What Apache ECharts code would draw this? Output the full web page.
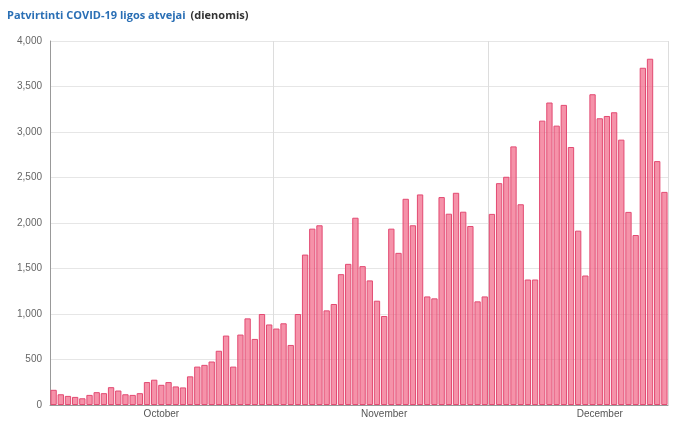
<!DOCTYPE html>
<html>
<head>
<meta charset="utf-8" />
<script src="https://cdn.jsdelivr.net/npm/echarts@6/dist/echarts.min.js"></script>
<style>body{margin:0;background:#fff}#main{width:689px;height:425px}</style>
</head>
<body>
<div id="main"></div>
<script>
var oct = [167,118,100,89,74,111,141,130,196,159,118,111,130,252,278,222,252,204,193,315,422,441,478,596,763,422,774,952,726,1000,885];
var nov = [840,898,660,1000,1653,1938,1975,1040,1110,1438,1551,2058,1526,1369,1146,978,1938,1672,2266,1975,2314,1193,1172,2285,2102,2332,2124,1967,1139,1193];
var dec = [2100,2438,2508,2842,2206,1379,1379,3125,3324,3070,3298,2835,1916,1423,3415,3151,3176,3217,2916,2122,1868,3706,3805,2680,2342];
var monthLabels = {15: 'October', 46: 'November', 76: 'December'};
var values = oct.concat(nov, dec);
var days = values.map(function (v, i) { return i; });

var chart = echarts.init(document.getElementById('main'));
chart.setOption({
    animation: false,
    title: {
        text: '{a|Patvirtinti COVID-19 ligos atvejai} {b|(dienomis)}',
        left: 2, top: 2,
        textStyle: { rich: {
            a: { color: '#2a6fb5', fontSize: 11, fontFamily: 'Open Sans' },
            b: { color: '#333', fontSize: 11, fontFamily: 'Open Sans' }
        } }
    },
    grid: { left: 50, right: 21, top: 41, bottom: 20 },
    xAxis: {
        type: 'category',
        data: days,
        axisLine: { lineStyle: { color: '#999' } },
        axisTick: { interval: function (i) { return i === 0 || i === 31 || i === 61; }, length: 5, lineStyle: { color: '#999' } },
        splitLine: { show: true, interval: function (i) { return i === 31 || i === 61; }, lineStyle: { color: '#ddd' } },
        axisLabel: {
            interval: 0, color: '#555', fontSize: 10, margin: 4,
            formatter: function (v, i) { return monthLabels[i] || ''; }
        }
    },
    yAxis: {
        type: 'value', min: 0, max: 4000, interval: 500,
        axisLine: { show: true, lineStyle: { color: '#999' } },
        axisLabel: { color: '#666', fontSize: 10, formatter: function (v) { return v.toLocaleString('en-US'); } },
        splitLine: { lineStyle: { color: '#e6e6e6' } }
    },
    series: [{
        type: 'bar',
        data: values,
        barCategoryGap: '12%',
        itemStyle: { color: 'rgba(242,110,140,0.75)', borderColor: '#e34a72', borderWidth: 1 }
    }]
});
</script>
</body>
</html>
